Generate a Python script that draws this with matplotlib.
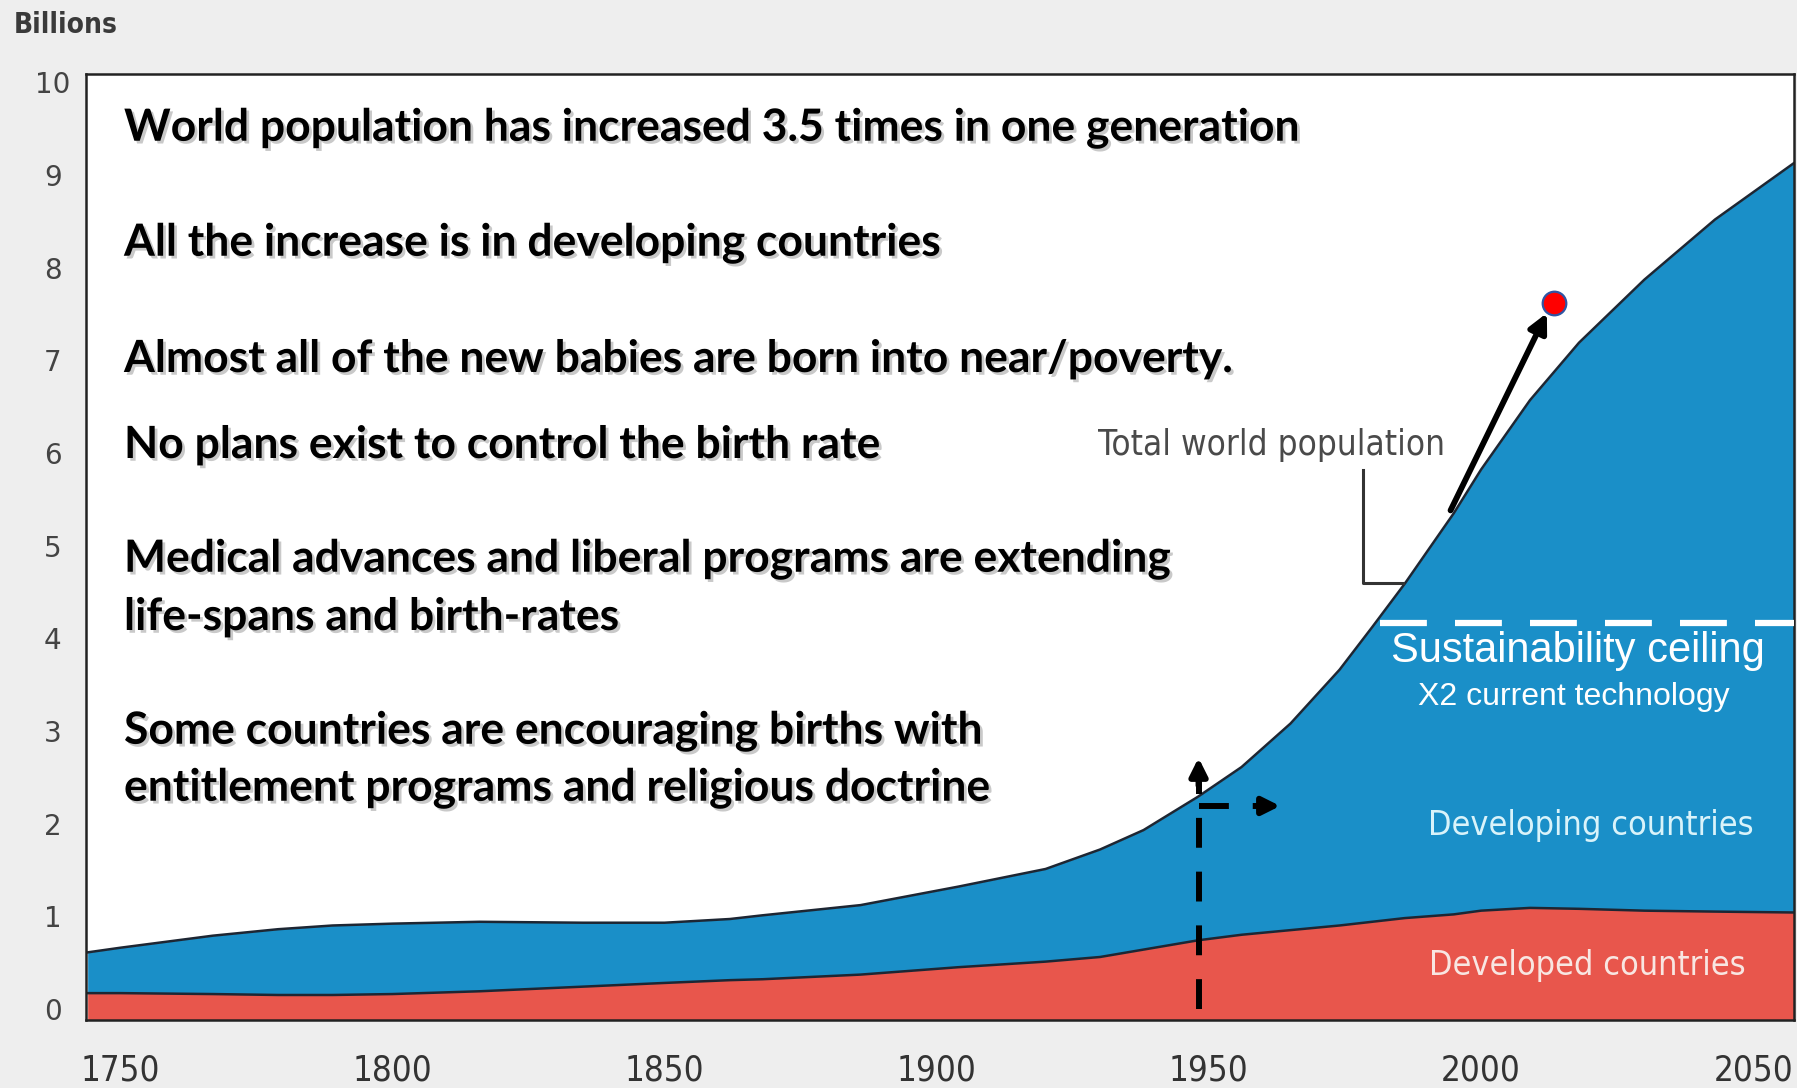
import matplotlib
matplotlib.use("Agg")
import matplotlib.pyplot as plt
import matplotlib.patheffects as pe
from matplotlib import font_manager
import numpy as np

# ---------------- data ----------------
years = [1744, 1750, 1767, 1779, 1789, 1800, 1816, 1835, 1850, 1862, 1868, 1886,
         1904, 1920, 1930, 1938, 1948, 1956, 1965, 1974, 1980, 1986, 1995, 2000,
         2009, 2018, 2030, 2043, 2058]
total_pop = [0.61, 0.66, 0.79, 0.86, 0.90, 0.92, 0.94, 0.93, 0.93, 0.97, 1.01, 1.12,
             1.32, 1.51, 1.72, 1.93, 2.29, 2.61, 3.08, 3.66, 4.12, 4.59, 5.35, 5.82,
             6.57, 7.19, 7.87, 8.52, 9.15]
developed_pop = [0.17, 0.17, 0.16, 0.15, 0.15, 0.16, 0.19, 0.24, 0.28, 0.31, 0.32, 0.37,
                 0.45, 0.51, 0.56, 0.64, 0.74, 0.80, 0.85, 0.90, 0.94, 0.98, 1.02, 1.06,
                 1.09, 1.08, 1.06, 1.05, 1.04]
xtick_years = [1750, 1800, 1850, 1900, 1950, 2000, 2050]
ytick_values = list(range(0, 11))

ceiling_value = 4.17
ceiling_start = 1981.4
marker_year, marker_value = 2013.4, 7.62
arrow_from = (1994.4, 5.38)
arrow_to = (2012.1, 7.51)
bracket_x = [1978.3, 1978.3, 1985.6]
bracket_y = [5.82, 4.60, 4.60]
vline_year = 1948.1
vline_top = 2.71
hline_value = 2.19
hline_end = 1963.1

statements = [
    "World population has increased 3.5 times in one generation",
    "All the increase is in developing countries",
    "Almost all of the new babies are born into near/poverty.",
    "No plans exist to control the birth rate",
    "Medical advances and liberal programs are extending",
    "life-spans and birth-rates",
    "Some countries are encouraging births with",
    "entitlement programs and religious doctrine",
]
statement_px_y = [128, 243, 359, 445, 559, 617, 731, 788]

BLUE = "#1a8fc8"
RED = "#e8564c"


def find_font(names):
    for f in font_manager.fontManager.ttflist:
        base = f.fname.replace("\\", "/").split("/")[-1]
        if base in names:
            return f.fname
    return None


cond_path = find_font(["DejaVuSansCondensed.ttf", "LiberationSansNarrow-Regular.ttf"])
cond_bold_path = find_font(["DejaVuSansCondensed-Bold.ttf", "LiberationSansNarrow-Bold.ttf"])


def narrow_props(size, bold=False):
    p = cond_bold_path if bold else cond_path
    if p:
        return font_manager.FontProperties(fname=p, size=size)
    return font_manager.FontProperties(family="Liberation Sans", size=size,
                                       weight="bold" if bold else "normal")


W, H = 1797, 1088
fig = plt.figure(figsize=(W / 100, H / 100), dpi=100, facecolor="#eeeeee")
ax = fig.add_axes([86 / W, 1 - 1020 / H, (1794 - 86) / W, (1020 - 74) / H])
ax.set_facecolor("white")
renderer = fig.canvas.get_renderer()


def fit_width(t, target_px):
    """Scale the font size of a text so its rendered width matches target_px."""
    for _ in range(2):
        w = t.get_window_extent(renderer=renderer).width
        if w > 0:
            t.set_fontsize(t.get_fontsize() * target_px / w)
    return t


x = np.array(years, dtype=float)
tot = np.array(total_pop)
dev = np.array(developed_pop)

ax.fill_between(x, -1, dev, color=RED, lw=0, zorder=1)
ax.fill_between(x, dev, tot, color=BLUE, lw=0, zorder=1)
ax.plot(x, dev, color="#1d2633", lw=1.8, zorder=2)
ax.plot(x, tot, color="#1d2633", lw=1.8, zorder=2)

ax.set_xlim(1743.7, 2057.5)
ax.set_ylim(-0.12, 10.09)

for s in ax.spines.values():
    s.set_color("#222222")
    s.set_linewidth(1.8)

ax.set_xticks(xtick_years)
ax.set_xticklabels([str(v) for v in xtick_years], color="#333333")
for lab in ax.get_xticklabels():
    lab.set_fontproperties(narrow_props(25))
ax.set_yticks(ytick_values)
ax.set_yticklabels([str(v) for v in ytick_values], family="DejaVu Sans",
                   fontsize=20, color="#444444")
ax.tick_params(axis="x", length=0, pad=24)
ax.tick_params(axis="y", length=0, pad=24)
for lab in ax.get_yticklabels():
    lab.set_horizontalalignment("center")

t = fig.text(14 / W, 1 - 25 / H, "Billions", fontproperties=narrow_props(21, bold=True),
             color="#3a3a3a", va="center", ha="left")
fit_width(t, 104)

# statements
shadow = [pe.SimplePatchShadow(offset=(2, -2), shadow_rgbFace="#888888", alpha=0.45),
          pe.Normal()]
for txt, py in zip(statements, statement_px_y):
    fig.text(124 / W, 1 - py / H, txt, family=["Lato", "DejaVu Sans"], fontweight="bold",
             fontsize=32, color="black", va="center", ha="left", path_effects=shadow)

# total world population label + bracket
t = fig.text(1272 / W, 1 - 445 / H, "Total world population",
             fontproperties=narrow_props(24), color="#4a4a4a", ha="center", va="center")
fit_width(t, 346)
ax.plot(bracket_x, bracket_y, color="#333333", lw=2.2, zorder=3)

# arrow and marker
ax.annotate("", xy=arrow_to, xytext=arrow_from,
            arrowprops=dict(arrowstyle="-|>", lw=4.2, color="black", mutation_scale=28,
                            shrinkA=0, shrinkB=0), zorder=5)
ax.plot([marker_year], [marker_value], marker="o", markersize=17,
        markerfacecolor="#ff0000", markeredgecolor="#2f55a4", markeredgewidth=1.6,
        zorder=6, linestyle="none")

# sustainability ceiling
ax.plot([ceiling_start, 2057.5], [ceiling_value, ceiling_value], color="white", lw=4.5,
        dashes=(7.5, 4.5), zorder=4, solid_capstyle="butt", dash_capstyle="butt")
fig.text(1578 / W, 1 - 662 / H, "Sustainability ceiling", family=["Liberation Sans", "DejaVu Sans"],
         fontsize=30, color="white", ha="center", va="baseline")
fig.text(1574 / W, 1 - 705 / H, "X2 current technology", family=["Liberation Sans", "DejaVu Sans"],
         fontsize=23, color="white", ha="center", va="baseline")

# dashed arrows
ax.plot([vline_year, vline_year], [0, vline_top - 0.22], color="black", lw=4.3,
        dashes=(5, 4), zorder=5, dash_capstyle="butt")
ax.annotate("", xy=(vline_year, vline_top), xytext=(vline_year, vline_top - 0.3),
            arrowprops=dict(arrowstyle="-|>", lw=4.3, color="black", mutation_scale=26,
                            shrinkA=0, shrinkB=0), zorder=5)
ax.plot([vline_year, hline_end - 3.5], [hline_value, hline_value], color="black", lw=4.3,
        dashes=(5, 4), zorder=5, dash_capstyle="butt")
ax.annotate("", xy=(hline_end, hline_value), xytext=(hline_end - 3.5, hline_value),
            arrowprops=dict(arrowstyle="-|>", lw=4.3, color="black", mutation_scale=26,
                            shrinkA=0, shrinkB=0), zorder=5)

# region labels
t = fig.text(1591 / W, 1 - 825 / H, "Developing countries", fontproperties=narrow_props(29),
             color="#d9f3fa", ha="center", va="center")
fit_width(t, 324)
t = fig.text(1587 / W, 1 - 965 / H, "Developed countries", fontproperties=narrow_props(29),
             color="#f8e6e2", ha="center", va="center")
fit_width(t, 315)

fig.savefig("out.png", dpi=100, facecolor=fig.get_facecolor())
